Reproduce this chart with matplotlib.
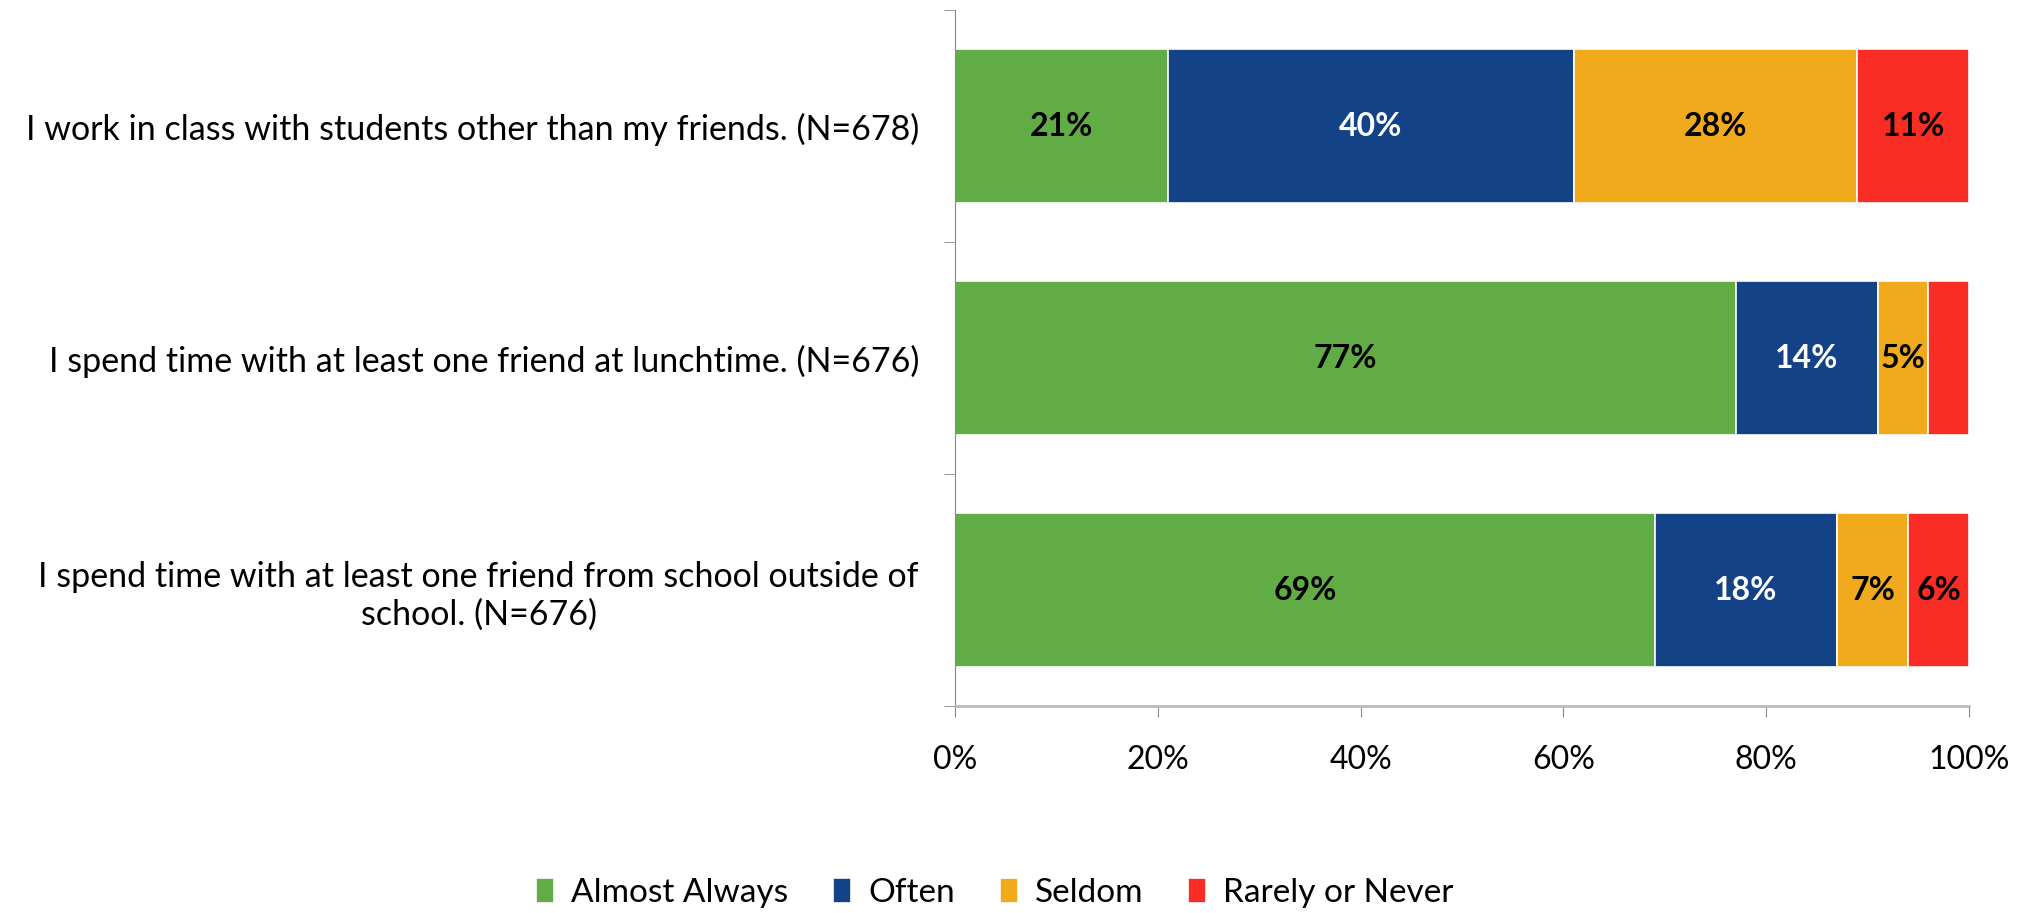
import matplotlib.pyplot as plt
import numpy as np

plt.rcParams['font.family'] = ['Lato', 'DejaVu Sans']

# survey items, top to bottom
items = [
    "I work in class with students other than my friends. (N=678)",
    "I spend time with at least one friend at lunchtime. (N=676)",
    "I spend time with at least one friend from school outside of\nschool. (N=676)",
]
categories = ["Almost Always", "Often", "Seldom", "Rarely or Never"]
almost_always = [21, 77, 69]
often = [40, 14, 18]
seldom = [28, 5, 7]
rarely_never = [11, 4, 6]
# segments too thin to get a label
hide_label = [[False, False, False], [False, False, False],
              [False, False, False], [False, True, False]]

colors = ["#62AC46", "#134287", "#F0AA1C", "#F92D23"]
label_colors = ["black", "white", "black", "black"]

fig = plt.figure(figsize=(20.3, 9.13), dpi=100)
ax = fig.add_axes([955 / 2030, 1 - 706 / 913, (1969 - 955) / 2030, (706 - 10) / 913])

y = np.arange(len(items))
series = [almost_always, often, seldom, rarely_never]
left = np.zeros(len(items))
for i, (vals, name) in enumerate(zip(series, categories)):
    vals = np.array(vals, dtype=float)
    bars = ax.barh(y, vals, left=left, height=0.66, color=colors[i],
                   edgecolor="white", linewidth=1.2, label=name)
    for j, b in enumerate(bars):
        if hide_label[i][j]:
            continue
        ax.text(left[j] + vals[j] / 2, y[j], f"{int(vals[j])}%",
                ha="center", va="center", fontsize=23, fontweight="bold",
                color=label_colors[i])
    left += vals

ax.set_xlim(0, 100)
ax.set_ylim(len(items) - 0.5, -0.5)
ax.set_xticks(np.arange(0, 101, 20))
ax.set_xticklabels([f"{t}%" for t in range(0, 101, 20)], fontsize=23)
ax.set_yticks(y)
ax.set_yticklabels(items, fontsize=24.5, multialignment="center")
ax.tick_params(axis="y", length=0, pad=26)
ax.tick_params(axis="x", length=8, color="#888888", pad=20)
# category separators on the y axis
ax.set_yticks(np.arange(-0.5, len(items), 1), minor=True)
ax.tick_params(axis="y", which="minor", length=8, color="#888888")

for s in ["top", "right"]:
    ax.spines[s].set_visible(False)
ax.spines["left"].set_color("#888888")
ax.spines["bottom"].set_color("#BBBBBB")
ax.spines["bottom"].set_linewidth(2)

fig.legend(loc="center", bbox_to_anchor=(0.49, 1 - 893 / 913), ncol=4,
           frameon=False, fontsize=24, handlelength=0.55, handleheight=0.8,
           handletextpad=0.5, columnspacing=1.35)

fig.savefig("out.png", dpi=100)
